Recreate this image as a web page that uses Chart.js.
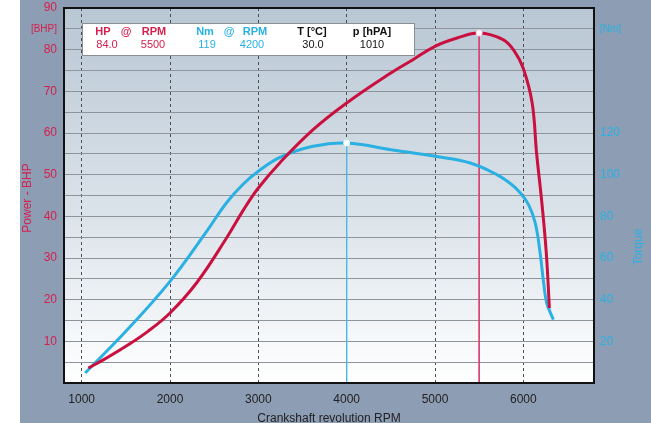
<!DOCTYPE html>
<html><head><meta charset="utf-8">
<script src="https://cdn.jsdelivr.net/npm/chart.js@4/dist/chart.umd.min.js"></script>
<style>html,body{margin:0;padding:0;background:#fff}#wrap{width:651px;height:423px;position:relative}</style>
</head><body><div id="wrap"><canvas id="c" width="651" height="423"></canvas></div>
<script>
// ---- data ----
const hpRpm    = [1075, 1250, 1500, 1750, 2000, 2300, 2640, 2830, 3000, 3250, 3620, 4000, 4500, 4750, 5000, 5250, 5500, 5770, 5900, 6000, 6100, 6150, 6210, 6260, 6295];
const hpValues = [3.6, 5.6, 8.8, 12.4, 16.8, 24.0, 34.8, 41.5, 46.8, 53.0, 60.8, 67.2, 74.4, 77.6, 80.8, 82.8, 84.0, 82.4, 79.6, 75.5, 67.2, 55.2, 43.2, 31.2, 18.0];
const nmRpm    = [1040, 1500, 2000, 2415, 2640, 2830, 3000, 3250, 3620, 4000, 4500, 5000, 5400, 5700, 5860, 5960, 6060, 6135, 6190, 6230, 6265, 6340];
const nmValues = [4.8, 24.8, 48.8, 72.8, 86.5, 95.5, 101.6, 108.4, 113.6, 115.2, 112.0, 108.8, 105.6, 100.0, 95.5, 91.5, 85.5, 76.8, 62.4, 48.0, 38.4, 30.4];
const hpPeak = {rpm: 5500, value: 84.0};
const nmPeak = {rpm: 4000, value: 115.2};
const xTicks = [1000, 2000, 3000, 4000, 5000, 6000];
const leftTickLabels = [10, 20, 30, 40, 50, 60, 70, 80, 90];
const leftUnitLabel = '[BHP]';
const rightTickLabels = [20, 40, 60, 80, 100, 120];
const rightUnitLabel = '[Nm]';
const xTitle = 'Crankshaft revolution RPM';
const leftTitle = 'Power - BHP';
const rightTitle = 'Torque';
const tableHeaders = ['HP', '@', 'RPM', 'Nm', '@', 'RPM', 'T [°C]', 'p [hPA]'];
const tableValues = ['84.0', '5500', '119', '4200', '30.0', '1010'];

const RED = '#c9103f', RED_TXT = '#d4204f', BLUE = '#2ab0e2', GRAY_BG = '#8d9db4';
const FONT = '"Liberation Sans", Arial, sans-serif';

const bgPlugin = {
  id: 'bg',
  beforeDraw(chart) {
    const {ctx, chartArea: a} = chart;
    ctx.save();
    ctx.fillStyle = '#ffffff'; ctx.fillRect(0, 0, 651, 423);
    ctx.fillStyle = GRAY_BG; ctx.fillRect(20, 0, 631, 423);
    const g = ctx.createLinearGradient(0, a.top, 0, a.bottom);
    g.addColorStop(0, '#b9c7d4'); g.addColorStop(0.55, '#dbe3ea'); g.addColorStop(1, '#ffffff');
    ctx.fillStyle = g; ctx.fillRect(a.left, a.top, a.right - a.left, a.bottom - a.top);
    ctx.restore();
  },
  afterDraw(chart) {
    const {ctx, chartArea: a} = chart;
    ctx.save();
    ctx.strokeStyle = '#111'; ctx.lineWidth = 2;
    ctx.strokeRect(a.left, a.top, a.right - a.left, a.bottom - a.top);
    // info table
    ctx.fillStyle = '#ffffff'; ctx.fillRect(82, 23, 332, 32);
    ctx.strokeStyle = '#8a8f96'; ctx.lineWidth = 1; ctx.strokeRect(82.5, 23.5, 332, 32);
    ctx.textAlign = 'center'; ctx.textBaseline = 'middle';
    ctx.font = 'bold 11px ' + FONT;
    const hx = [103, 126, 154, 205, 229, 255, 312, 372];
    const hc = [RED_TXT, RED_TXT, RED_TXT, BLUE, BLUE, BLUE, '#111', '#111'];
    tableHeaders.forEach((t, i) => { ctx.fillStyle = hc[i]; ctx.fillText(t, hx[i], 32); });
    ctx.font = '11px ' + FONT;
    const vx = [107, 153, 207, 252, 313, 372];
    const vc = [RED_TXT, RED_TXT, BLUE, BLUE, '#111', '#111'];
    tableValues.forEach((t, i) => { ctx.fillStyle = vc[i]; ctx.fillText(t, vx[i], 45); });
    // axis titles
    ctx.font = '12px ' + FONT;
    ctx.fillStyle = '#222'; ctx.textBaseline = 'alphabetic';
    ctx.fillText(xTitle, (a.left + a.right) / 2, 422);
    ctx.textBaseline = 'middle';
    ctx.save(); ctx.translate(28, 198); ctx.rotate(-Math.PI / 2);
    ctx.fillStyle = RED_TXT; ctx.fillText(leftTitle, 0, 0); ctx.restore();
    ctx.save(); ctx.translate(639, 247); ctx.rotate(-Math.PI / 2);
    ctx.fillStyle = BLUE; ctx.fillText(rightTitle, 0, 0); ctx.restore();
    ctx.restore();
  }
};

const pts = (xs, ys) => xs.map((x, i) => ({x, y: ys[i]}));
const fitY = w => s => { s.width = w; s.paddingTop = 0; s.paddingBottom = 0; };

new Chart(document.getElementById('c'), {
  type: 'line',
  data: {
    datasets: [
      {data: [{x: hpPeak.rpm, y: hpPeak.value}], yAxisID: 'y', showLine: false, pointRadius: 3, pointBackgroundColor: '#fff', pointBorderColor: '#fde', pointBorderWidth: 1},
      {data: [{x: nmPeak.rpm, y: nmPeak.value}], yAxisID: 'y2', showLine: false, pointRadius: 3, pointBackgroundColor: '#fff', pointBorderColor: '#dff', pointBorderWidth: 1},
      {data: pts(hpRpm, hpValues), yAxisID: 'y', borderColor: RED, borderWidth: 3, pointRadius: 0, tension: 0.4, fill: false},
      {data: pts(nmRpm, nmValues), yAxisID: 'y2', borderColor: BLUE, borderWidth: 3, pointRadius: 0, tension: 0.4, fill: false},
      {data: [{x: hpPeak.rpm, y: hpPeak.value}, {x: hpPeak.rpm, y: 0}], yAxisID: 'y', borderColor: '#d84070', borderWidth: 1, pointRadius: 0, tension: 0},
      {data: [{x: nmPeak.rpm, y: nmPeak.value}, {x: nmPeak.rpm, y: 0}], yAxisID: 'y2', borderColor: '#4cb8e4', borderWidth: 1, pointRadius: 0, tension: 0}
    ]
  },
  options: {
    responsive: false, animation: false, devicePixelRatio: 1,
    layout: {padding: {top: 8, left: 0, right: 0, bottom: 0}},
    plugins: {legend: {display: false}, tooltip: {enabled: false}},
    scales: {
      x: {
        type: 'linear', min: 800, max: 6800,
        afterBuildTicks: s => { s.ticks = xTicks.map(v => ({value: v})); },
        afterFit: s => { s.height = 40; s.paddingLeft = 0; s.paddingRight = 0; },
        grid: {color: '#4a4f57', lineWidth: 1, drawTicks: false},
        border: {display: false, dash: [3, 3]},
        ticks: {padding: 9, color: '#222', font: {size: 12, family: FONT}, autoSkip: false, maxRotation: 0, callback: v => String(v)}
      },
      y: {
        position: 'left', min: 0, max: 90,
        ticks: {stepSize: 5, autoSkip: false, padding: 7, color: RED_TXT,
          font: c => ({size: (c.tick && c.tick.value === 85) ? 10 : 12, family: FONT}),
          callback: v => leftTickLabels.includes(v) ? String(v) : (v === 85 ? leftUnitLabel : '')},
        afterFit: fitY(64),
        grid: {color: '#8e949b', lineWidth: 1, drawTicks: false},
        border: {display: false}
      },
      y2: {
        position: 'right', min: 0, max: 180,
        ticks: {stepSize: 10, autoSkip: false, padding: 6, color: BLUE,
          font: c => ({size: (c.tick && c.tick.value === 170) ? 10 : 12, family: FONT}),
          callback: v => rightTickLabels.includes(v) ? String(v) : (v === 170 ? rightUnitLabel : '')},
        afterFit: fitY(57),
        grid: {display: false, drawTicks: false},
        border: {display: false}
      }
    }
  },
  plugins: [bgPlugin]
});
</script>
</body></html>
